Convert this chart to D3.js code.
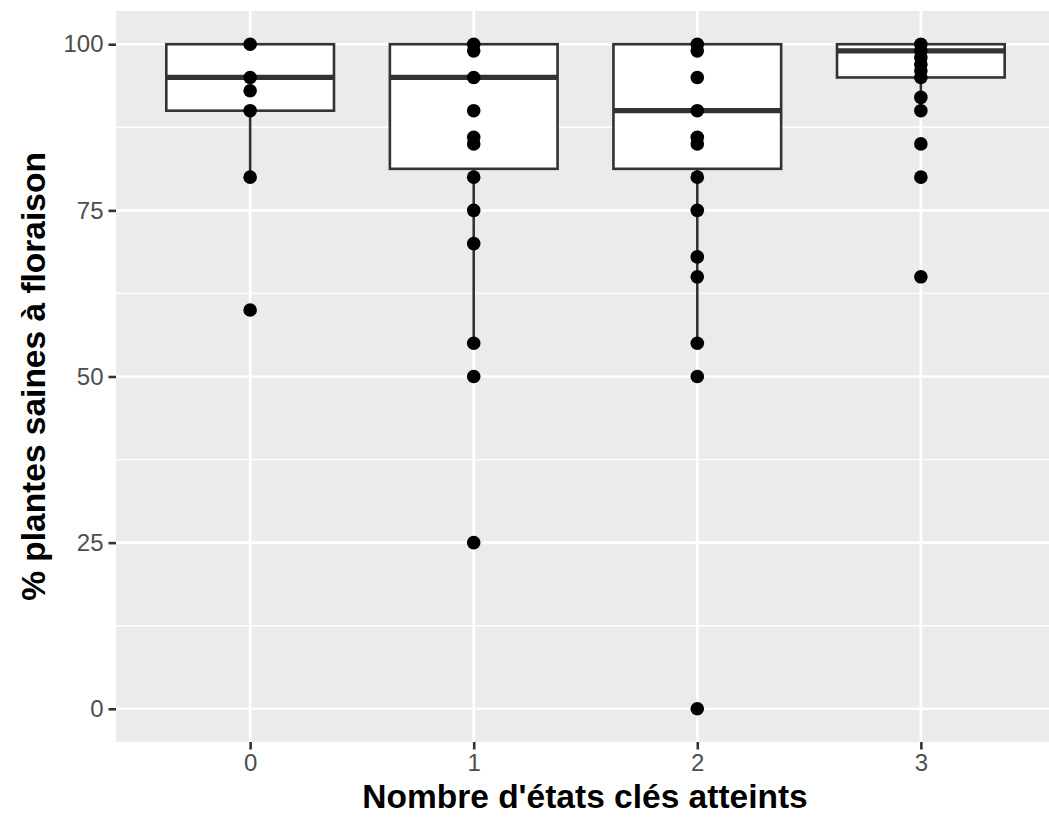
<!DOCTYPE html>
<html>
<head>
<meta charset="utf-8">
<script src="https://cdn.jsdelivr.net/npm/d3@7/dist/d3.min.js"></script>
<style>
  html, body { margin: 0; padding: 0; background: #ffffff; }
  svg { display: block; }
</style>
</head>
<body>
<svg id="chart" width="1049" height="817"></svg>
<script>
// ---- data ----
const categories = ["0", "1", "2", "3"];
const yTicks = [0, 25, 50, 75, 100];
const yMinorTicks = [12.5, 37.5, 62.5, 87.5];

// box statistics per category
const q1 = [90, 81.25, 81.25, 95];
const medians = [95, 95, 90, 99];
const q3 = [100, 100, 100, 100];
const whiskerLow = [80, 55, 55, 90];
const whiskerHigh = [100, 100, 100, 100];

// observed points per category
const points0 = [100, 95, 93, 90, 80, 60];
const points1 = [100, 99, 95, 90, 86, 85, 80, 75, 70, 55, 50, 25];
const points2 = [100, 99, 95, 90, 86, 85, 80, 75, 68, 65, 55, 50, 0];
const points3 = [100, 99, 98, 97, 96, 95, 92, 90, 85, 80, 65];

const xTitle = "Nombre d'états clés atteints";
const yTitle = "% plantes saines à floraison";

// ---- layout ----
const W = 1049, H = 817;
const panel = { left: 116, right: 1055, top: 11, bottom: 742 };
const FONT = "'Liberation Sans', Arial, Helvetica, sans-serif";

const svg = d3.select("#chart");

const x = d3.scalePoint().domain(categories).range([panel.left, panel.right]).padding(0.6);
const y = d3.scaleLinear().domain([-5, 105]).range([panel.bottom, panel.top]);

// panel background
svg.append("rect")
  .attr("x", panel.left).attr("y", panel.top)
  .attr("width", panel.right - panel.left).attr("height", panel.bottom - panel.top)
  .attr("fill", "#EBEBEB");

const grid = svg.append("g");
grid.selectAll("line.minor").data(yMinorTicks).enter().append("line")
  .attr("x1", panel.left).attr("x2", panel.right)
  .attr("y1", d => y(d)).attr("y2", d => y(d))
  .attr("stroke", "#ffffff").attr("stroke-width", 1.35);
grid.selectAll("line.majory").data(yTicks).enter().append("line")
  .attr("x1", panel.left).attr("x2", panel.right)
  .attr("y1", d => y(d)).attr("y2", d => y(d))
  .attr("stroke", "#ffffff").attr("stroke-width", 2.7);
grid.selectAll("line.majorx").data(categories).enter().append("line")
  .attr("y1", panel.top).attr("y2", panel.bottom)
  .attr("x1", d => x(d)).attr("x2", d => x(d))
  .attr("stroke", "#ffffff").attr("stroke-width", 2.7);

// boxplots
const boxW = x.step() * 0.75;
const boxes = categories.map((c, i) => ({
  c, q1: q1[i], med: medians[i], q3: q3[i], lo: whiskerLow[i], hi: whiskerHigh[i]
}));
const bg = svg.append("g");
boxes.forEach(b => {
  const cx = x(b.c);
  bg.append("line").attr("x1", cx).attr("x2", cx)
    .attr("y1", y(b.q1)).attr("y2", y(b.lo))
    .attr("stroke", "#333333").attr("stroke-width", 2.6);
  bg.append("line").attr("x1", cx).attr("x2", cx)
    .attr("y1", y(b.q3)).attr("y2", y(b.hi))
    .attr("stroke", "#333333").attr("stroke-width", 2.6);
  bg.append("rect")
    .attr("x", cx - boxW / 2).attr("width", boxW)
    .attr("y", y(b.q3)).attr("height", y(b.q1) - y(b.q3))
    .attr("fill", "#ffffff").attr("stroke", "#333333").attr("stroke-width", 2.6);
  bg.append("line").attr("x1", cx - boxW / 2).attr("x2", cx + boxW / 2)
    .attr("y1", y(b.med)).attr("y2", y(b.med))
    .attr("stroke", "#333333").attr("stroke-width", 5.2);
});

// points
const allPoints = [points0, points1, points2, points3];
const pg = svg.append("g");
allPoints.forEach((arr, i) => {
  pg.selectAll(null).data(arr).enter().append("circle")
    .attr("cx", x(categories[i])).attr("cy", d => y(d))
    .attr("r", 6.8).attr("fill", "#000000");
});

// axes
const yAxis = d3.axisLeft(y).tickValues(yTicks).tickSize(7.5).tickPadding(5).tickFormat(d3.format("d"));
const ya = svg.append("g").attr("transform", `translate(${panel.left},0)`).call(yAxis);
const xAxis = d3.axisBottom(x).tickSize(7.5).tickPadding(4);
const xa = svg.append("g").attr("transform", `translate(0,${panel.bottom})`).call(xAxis);
[ya, xa].forEach(a => {
  a.select(".domain").remove();
  a.selectAll(".tick line").attr("stroke", "#333333").attr("stroke-width", 2.6);
  a.selectAll(".tick text").attr("fill", "#4D4D4D").style("font-family", FONT).style("font-size", "24px");
});

// titles
svg.append("text")
  .attr("x", 585).attr("y", 808)
  .attr("text-anchor", "middle")
  .style("font-family", FONT).style("font-size", "33.5px").style("font-weight", "bold")
  .attr("fill", "#000000")
  .text(xTitle);
svg.append("text")
  .attr("transform", `translate(45,${(panel.top + panel.bottom) / 2}) rotate(-90)`)
  .attr("text-anchor", "middle")
  .style("font-family", FONT).style("font-size", "33.5px").style("font-weight", "bold")
  .attr("fill", "#000000")
  .text(yTitle);
</script>
</body>
</html>
